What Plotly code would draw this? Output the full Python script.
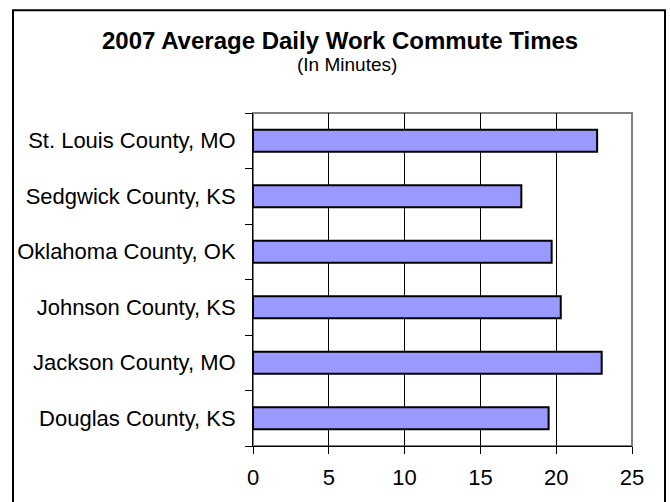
import plotly.graph_objects as go

categories = ["Douglas County, KS", "Jackson County, MO", "Johnson County, KS",
              "Oklahoma County, OK", "Sedgwick County, KS", "St. Louis County, MO"]
minutes = [19.5, 23.0, 20.3, 19.7, 17.7, 22.7]
x_ticks = [0, 5, 10, 15, 20, 25]

title_text = "2007 Average Daily Work Commute Times"
subtitle_text = "(In Minutes)"

W, H = 670, 502
L, R, T, B = 253, 38, 113, 52
pw, ph = W - L - R, H - T - B

def px_x(px):
    return (px - L) / pw

def px_y(py):
    return (H - B - py) / ph

fig = go.Figure(go.Bar(
    y=categories, x=minutes, orientation="h",
    marker=dict(color="#9999FF", line=dict(color="black", width=2)),
))

font = "Liberation Sans, Arial, sans-serif"

fig.update_layout(
    width=W, height=H,
    margin=dict(l=L, r=R, t=T, b=B, pad=0),
    paper_bgcolor="white", plot_bgcolor="white",
    bargap=0.6, showlegend=False,
    font=dict(family=font, size=22, color="black"),
    xaxis=dict(range=[0, 25], tickvals=x_ticks, ticks="outside", ticklen=7,
               tickcolor="black", showline=True, linecolor="black", linewidth=1,
               showgrid=True, gridcolor="black", gridwidth=1, zeroline=False,
               tickfont=dict(size=22), ticklabelstandoff=5, fixedrange=True),
    yaxis=dict(categoryorder="array", categoryarray=categories, ticks="outside",
               tickson="boundaries", ticklen=7, tickcolor="black", showline=True,
               linecolor="black", linewidth=1, showgrid=False,
               tickfont=dict(size=22), ticklabelstandoff=12, fixedrange=True),
    shapes=[
        dict(type="rect", xref="paper", yref="paper", x0=0, x1=1, y0=0, y1=1,
             line=dict(color="#808080", width=2), layer="below"),
        dict(type="rect", xref="paper", yref="paper",
             x0=px_x(13), x1=px_x(665), y0=px_y(520), y1=px_y(9),
             line=dict(color="black", width=2), layer="below"),
    ],
    annotations=[
        dict(text="<b>" + title_text + "</b>", xref="paper", yref="paper",
             x=px_x(340), y=px_y(40), xanchor="center", yanchor="middle",
             showarrow=False, font=dict(size=24)),
        dict(text=subtitle_text, xref="paper", yref="paper",
             x=px_x(347), y=px_y(64), xanchor="center", yanchor="middle",
             showarrow=False, font=dict(size=19)),
    ],
)

fig.write_html("out.html", config={"displayModeBar": False},
               post_script="document.body.style.margin='0';")
